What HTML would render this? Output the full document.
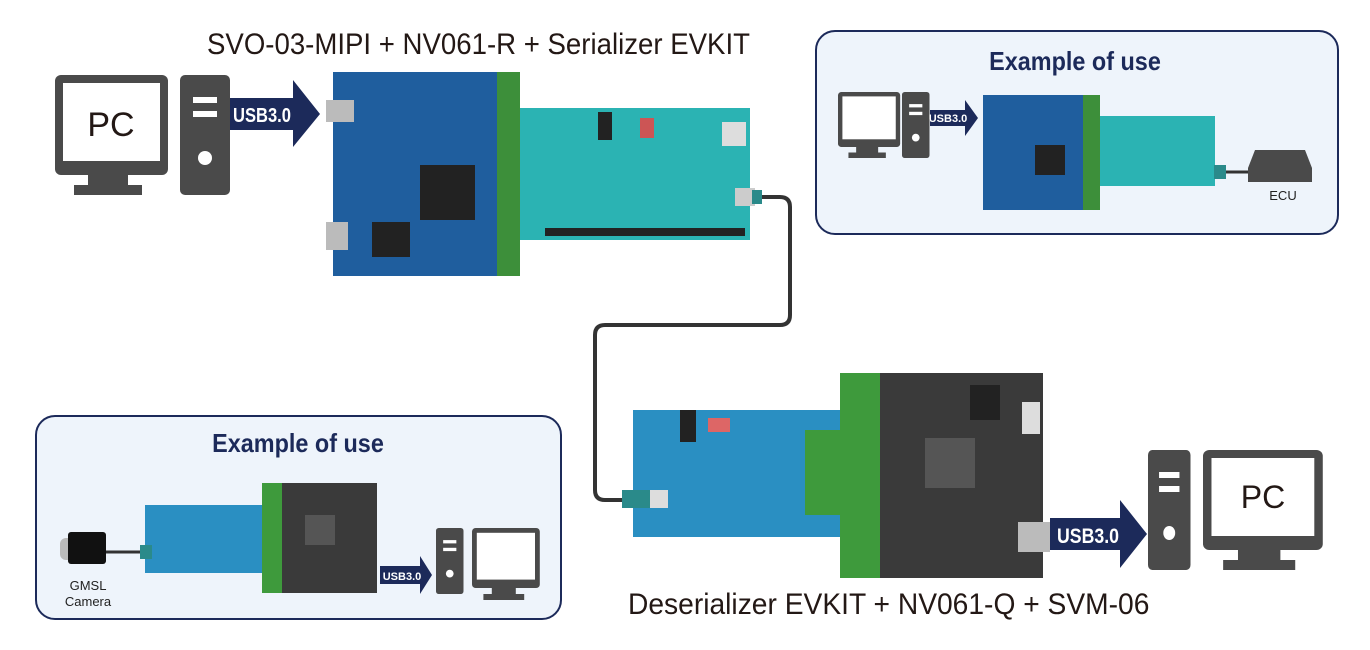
<!DOCTYPE html>
<html><head><meta charset="utf-8"><style>
body{margin:0;width:1370px;height:650px;background:#fff;position:relative;overflow:hidden;font-family:"Liberation Sans",sans-serif}
.a{position:absolute}
.t{position:absolute;white-space:nowrap;color:#231815;font-size:30px;transform-origin:left top}
.box{position:absolute;border:2px solid #1c2a5a;border-radius:20px;background:#eef4fb}
.h{position:absolute;color:#1c2a5a;font-weight:bold;font-size:26px;white-space:nowrap;transform:translateX(-50%) scaleX(.9)}
</style></head><body>
<div class="t" style="left:207px;top:28px;transform:scaleX(.92)">SVO-03-MIPI + NV061-R + Serializer EVKIT</div>
<div class="t" style="left:628px;top:588px;transform:scaleX(.94)">Deserializer EVKIT + NV061-Q + SVM-06</div>

<svg class="a" style="left:0;top:0" width="1370" height="650">
<defs><g id="pc">
<rect x="0" y="0" width="113" height="100" rx="6" fill="#4a4a4a"/><rect x="8" y="8" width="97" height="78" fill="#fff"/>
<rect x="33" y="100" width="40" height="10" fill="#4a4a4a"/><rect x="19" y="110" width="68" height="10" fill="#4a4a4a"/>
</g>
<g id="tw"><rect x="0" y="0" width="50" height="120" rx="5" fill="#4a4a4a"/><rect x="13" y="22" width="24" height="6" fill="#fff"/><rect x="13" y="36" width="24" height="6" fill="#fff"/><circle cx="25" cy="83" r="7" fill="#fff"/></g>
</defs>
<use href="#pc" x="55" y="75"/><use href="#tw" x="180" y="75"/>
<text x="111" y="136" font-size="34" fill="#231815" text-anchor="middle" font-family="Liberation Sans">PC</text>
<polygon points="230,98 293,98 293,80 320,114 293,147 293,130 230,130" fill="#1c2a5a"/>
<text x="262" y="122" font-size="20" font-weight="bold" fill="#fff" text-anchor="middle" font-family="Liberation Sans" textLength="58" lengthAdjust="spacingAndGlyphs">USB3.0</text>

<path d="M750,197 L780,197 Q790,197 790,207 L790,315 Q790,325 780,325 L605,325 Q595,325 595,335 L595,490 Q595,500 605,500 L640,500" fill="none" stroke="#333" stroke-width="4"/>
<!-- top boards -->
<rect x="520" y="108" width="230" height="132" fill="#2bb3b3"/>
<rect x="333" y="72" width="167" height="204" fill="#1f5e9e"/>
<rect x="420" y="165" width="55" height="55" fill="#222"/><rect x="372" y="222" width="38" height="35" fill="#222"/>
<rect x="326" y="100" width="28" height="22" fill="#bbb"/><rect x="326" y="222" width="22" height="28" fill="#bbb"/>
<rect x="497" y="72" width="23" height="204" fill="#3d8f3a"/>
<rect x="598" y="112" width="14" height="28" fill="#222"/><rect x="640" y="118" width="14" height="20" fill="#c55"/>
<rect x="722" y="122" width="24" height="24" fill="#ddd"/><rect x="545" y="228" width="200" height="8" fill="#222"/>
<rect x="735" y="188" width="20" height="18" fill="#ccc"/><rect x="752" y="190" width="10" height="14" fill="#2a8a8a"/>
<!-- bottom boards -->
<rect x="633" y="410" width="210" height="127" fill="#2a8fc2"/>
<rect x="805" y="430" width="40" height="85" fill="#3e9a3c"/>
<rect x="840" y="373" width="42" height="205" fill="#3e9a3c"/>
<rect x="880" y="373" width="163" height="205" fill="#3a3a3a"/>
<rect x="925" y="438" width="50" height="50" fill="#555"/><rect x="970" y="385" width="30" height="35" fill="#222"/>
<rect x="1022" y="402" width="18" height="32" fill="#ddd"/><rect x="1018" y="522" width="32" height="30" fill="#bbb"/>
<rect x="680" y="410" width="16" height="32" fill="#222"/><rect x="708" y="418" width="22" height="14" fill="#d66"/>
<rect x="622" y="490" width="28" height="18" fill="#2a8a8a"/><rect x="650" y="490" width="18" height="18" fill="#ddd"/>
<polygon points="1050,518 1120,518 1120,500 1147,534 1120,568 1120,550 1050,550" fill="#1c2a5a"/>
<text x="1088" y="543" font-size="21" font-weight="bold" fill="#fff" text-anchor="middle" font-family="Liberation Sans" textLength="62" lengthAdjust="spacingAndGlyphs">USB3.0</text>
<g transform="translate(1148,450) scale(0.85,1)"><use href="#tw"/></g>
<g transform="translate(1203,450) scale(1.06,1)"><use href="#pc"/></g>
<text x="1263" y="508" font-size="32" fill="#231815" text-anchor="middle" font-family="Liberation Sans">PC</text>
</svg>

<div class="box" style="left:815px;top:30px;width:520px;height:201px"></div>
<div class="h" style="left:1075px;top:46px">Example of use</div>
<div class="box" style="left:35px;top:415px;width:523px;height:201px"></div>
<div class="h" style="left:298px;top:428px">Example of use</div>

<svg class="a" style="left:0;top:0" width="1370" height="650">
<g transform="translate(838,92) scale(0.55)"><use href="#pc"/></g>
<g transform="translate(902,92) scale(0.55)"><use href="#tw"/></g>
<polygon points="930,110 965,110 965,100 978,118 965,136 965,126 930,126" fill="#1c2a5a"/>
<text x="948" y="122" font-size="11" font-weight="bold" fill="#fff" text-anchor="middle">USB3.0</text>
<rect x="1100" y="116" width="115" height="70" fill="#2bb3b3"/>
<rect x="983" y="95" width="100" height="115" fill="#1f5e9e"/>
<rect x="1083" y="95" width="17" height="115" fill="#3d8f3a"/>
<rect x="1035" y="145" width="30" height="30" fill="#222"/>
<line x1="1225" y1="172" x2="1250" y2="172" stroke="#333" stroke-width="3"/>
<rect x="1214" y="165" width="12" height="14" fill="#2a8a8a"/>
<path d="M1255,150 L1305,150 L1312,168 L1312,182 L1248,182 L1248,168 Z" fill="#4a4a4a"/>
<text x="1283" y="200" font-size="13" fill="#222" text-anchor="middle">ECU</text>
<rect x="60" y="538" width="22" height="22" rx="6" fill="#bbb"/><rect x="68" y="532" width="38" height="32" rx="3" fill="#111"/>
<line x1="106" y1="552" x2="140" y2="552" stroke="#333" stroke-width="3"/>
<text x="88" y="590" font-size="13" fill="#222" text-anchor="middle">GMSL</text>
<text x="88" y="606" font-size="13" fill="#222" text-anchor="middle">Camera</text>
<rect x="145" y="505" width="120" height="68" fill="#2a8fc2"/>
<rect x="262" y="483" width="22" height="110" fill="#3e9a3c"/>
<rect x="282" y="483" width="95" height="110" fill="#3a3a3a"/>
<rect x="305" y="515" width="30" height="30" fill="#555"/>
<rect x="140" y="545" width="12" height="14" fill="#2a8a8a"/>
<polygon points="380,566 420,566 420,556 432,575 420,594 420,584 380,584" fill="#1c2a5a"/>
<text x="402" y="580" font-size="11" font-weight="bold" fill="#fff" text-anchor="middle">USB3.0</text>
<g transform="translate(436,528) scale(0.55)"><use href="#tw"/></g>
<g transform="translate(472,528) scale(0.6)"><use href="#pc"/></g>
</svg>
</body></html>
